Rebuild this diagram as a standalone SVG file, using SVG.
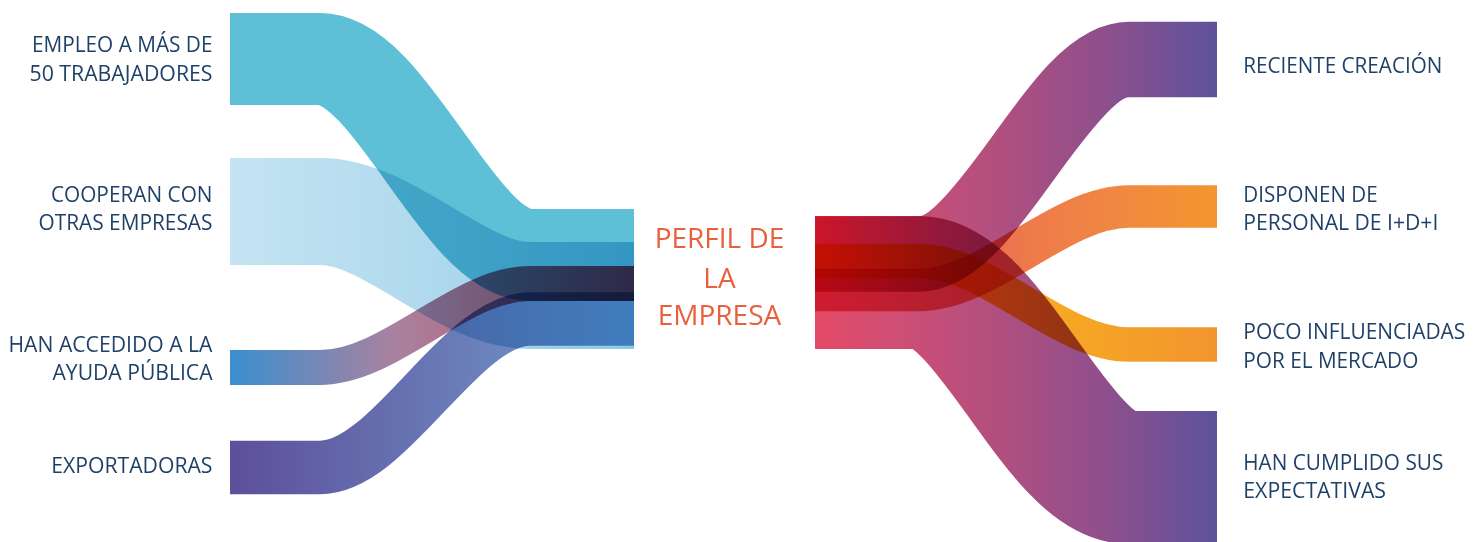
<svg xmlns="http://www.w3.org/2000/svg" width="1483" height="542" viewBox="0 0 1483 542">
<defs>
<linearGradient id="gCoop" gradientUnits="userSpaceOnUse" x1="230" y1="0" x2="634" y2="0">
<stop offset="0" stop-color="#C4E4F3"/><stop offset="0.55" stop-color="#ADD8EC"/><stop offset="1" stop-color="#8EC8E9"/>
</linearGradient>
<linearGradient id="gHan" gradientUnits="userSpaceOnUse" x1="230" y1="0" x2="634" y2="0">
<stop offset="0" stop-color="#3A8FD0"/><stop offset="0.4" stop-color="#A882A0"/><stop offset="0.67" stop-color="#B8687E"/><stop offset="1" stop-color="#E0465E"/>
</linearGradient>
<linearGradient id="gExp" gradientUnits="userSpaceOnUse" x1="230" y1="0" x2="634" y2="0">
<stop offset="0" stop-color="#5D4F9B"/><stop offset="0.5" stop-color="#6877B5"/><stop offset="1" stop-color="#72A0D0"/>
</linearGradient>
<linearGradient id="gPurple" gradientUnits="userSpaceOnUse" x1="815" y1="0" x2="1217" y2="0">
<stop offset="0" stop-color="#E44A66"/><stop offset="0.2" stop-color="#CF4E75"/><stop offset="0.46" stop-color="#B04F7F"/><stop offset="0.71" stop-color="#904F8C"/><stop offset="1" stop-color="#5E529C"/>
</linearGradient>
<linearGradient id="gDisp" gradientUnits="userSpaceOnUse" x1="815" y1="0" x2="1217" y2="0">
<stop offset="0" stop-color="#E85D78"/><stop offset="0.4" stop-color="#EC6A57"/><stop offset="0.53" stop-color="#EE7A4A"/><stop offset="0.71" stop-color="#F08544"/><stop offset="1" stop-color="#F3962E"/>
</linearGradient>
<linearGradient id="gPoco" gradientUnits="userSpaceOnUse" x1="815" y1="0" x2="1217" y2="0">
<stop offset="0" stop-color="#F7B21E"/><stop offset="0.6" stop-color="#F6A823"/><stop offset="1" stop-color="#F2952F"/>
</linearGradient>
</defs>
<style>
.flow{fill:none;stroke-linecap:butt;mix-blend-mode:multiply}
.lbl{font-family:"Open Sans","Noto Sans","Liberation Sans",sans-serif;font-size:22px;fill:#1F4168}
.end{text-anchor:end}
.ctr{font-family:"Open Sans","Noto Sans","Liberation Sans",sans-serif;font-size:28px;fill:#E9603E;text-anchor:middle}
</style>
<rect width="1483" height="542" fill="#FFFFFF"/>
<g id="connectors">
<path id="f-empleo" class="flow" stroke="#5DC0D6" stroke-width="92" d="M230,59 H320 C390,59 460,255 530,255 H634"/>
<path id="f-cooperan" class="flow" stroke="url(#gCoop)" stroke-width="107" d="M230,211.5 H320 C390,211.5 460,295.5 530,295.5 H634"/>
<path id="f-ayuda" class="flow" stroke="url(#gHan)" stroke-width="35" d="M230,367.5 H320 C390,367.5 460,283.5 530,283.5 H634"/>
<path id="f-export" class="flow" stroke="url(#gExp)" stroke-width="53.5" d="M230,467.5 H320 C390,467.5 460,319 530,319 H634"/>
<path id="f-reciente" class="flow" stroke="url(#gPurple)" stroke-width="75.5" d="M815,254 H919 C989,254 1059,59.5 1129,59.5 H1217"/>
<path id="f-cumplido" class="flow" stroke="url(#gPurple)" stroke-width="133" d="M815,282.5 H919 C989,282.5 1059,477.5 1129,477.5 H1217"/>
<path id="f-disponen" class="flow" stroke="url(#gDisp)" stroke-width="42.5" d="M815,290 H919 C989,290 1059,206.5 1129,206.5 H1217"/>
<path id="f-poco" class="flow" stroke="url(#gPoco)" stroke-width="34.5" d="M815,261 H919 C989,261 1059,344.5 1129,344.5 H1217"/>
</g>
<g id="n-empleo"><text class="lbl end" x="212.5" y="52.3" textLength="180.6" lengthAdjust="spacingAndGlyphs">EMPLEO A MÁS DE</text><text class="lbl end" x="212.5" y="81" textLength="183" lengthAdjust="spacingAndGlyphs">50 TRABAJADORES</text></g>
<g id="n-cooperan"><text class="lbl end" x="212.5" y="201.7" textLength="161.6" lengthAdjust="spacingAndGlyphs">COOPERAN CON</text><text class="lbl end" x="212.5" y="230" textLength="174" lengthAdjust="spacingAndGlyphs">OTRAS EMPRESAS</text></g>
<g id="n-ayuda"><text class="lbl end" x="212.5" y="351.7" textLength="204" lengthAdjust="spacingAndGlyphs">HAN ACCEDIDO A LA</text><text class="lbl end" x="212.5" y="380" textLength="160" lengthAdjust="spacingAndGlyphs">AYUDA PÚBLICA</text></g>
<g id="n-export"><text class="lbl end" x="212.5" y="473.3" textLength="161.3" lengthAdjust="spacingAndGlyphs">EXPORTADORAS</text></g>
<g id="n-perfil"><text class="ctr" x="719.5" y="248">PERFIL DE</text><text class="ctr" x="719.5" y="288">LA</text><text class="ctr" x="719.5" y="325">EMPRESA</text></g>
<g id="n-reciente"><text class="lbl" x="1243.3" y="73.3" textLength="199" lengthAdjust="spacingAndGlyphs">RECIENTE CREACIÓN</text></g>
<g id="n-disponen"><text class="lbl" x="1243.3" y="201.7" textLength="134.3" lengthAdjust="spacingAndGlyphs">DISPONEN DE</text><text class="lbl" x="1243.3" y="230" textLength="195" lengthAdjust="spacingAndGlyphs">PERSONAL DE I+D+I</text></g>
<g id="n-poco"><text class="lbl" x="1243.3" y="339" textLength="222" lengthAdjust="spacingAndGlyphs">POCO INFLUENCIADAS</text><text class="lbl" x="1243.3" y="368" textLength="175" lengthAdjust="spacingAndGlyphs">POR EL MERCADO</text></g>
<g id="n-cumplido"><text class="lbl" x="1243.3" y="470" textLength="200" lengthAdjust="spacingAndGlyphs">HAN CUMPLIDO SUS</text><text class="lbl" x="1243.3" y="498.3" textLength="142.7" lengthAdjust="spacingAndGlyphs">EXPECTATIVAS</text></g>
</svg>
